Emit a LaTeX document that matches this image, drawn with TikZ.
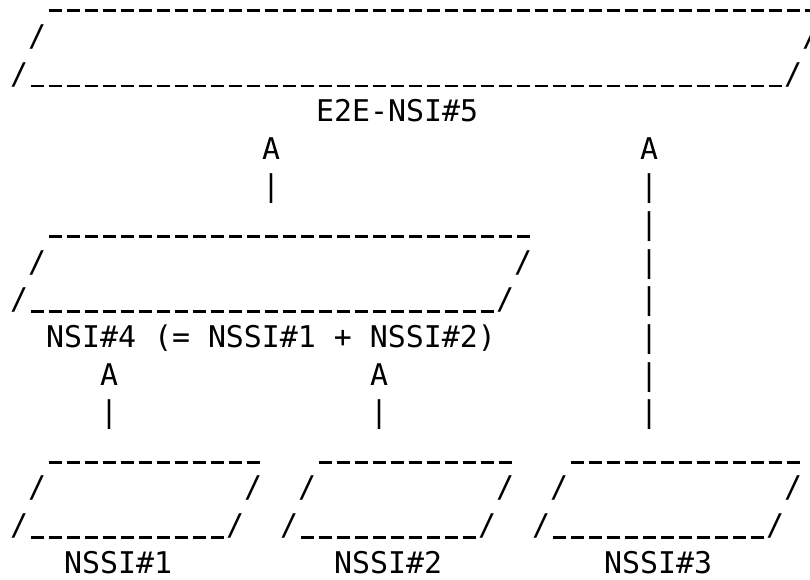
\documentclass[tikz,border=0pt]{standalone}
\usepackage{fontspec}
\setmonofont{DejaVu Sans Mono}
\tikzset{
  ch/.style={anchor=base west, inner sep=0pt, outer sep=0pt,
    font=\ttfamily\fontsize{29.9}{37.6}\selectfont},
  usline/.style={line width=2.7pt, line cap=butt}}
% cell geometry: column width 18, row pitch 37.63, first baseline 8.8 below top
\newcommand\txt[4]{\node[ch] (#1) at ({10+18*(#2)},{571.2-37.63*((#3)-1)}) {#4};}
% underscores drawn as separate dashes: #1 first column, #2 row, #3 count
\newcommand\dashes[3]{\draw[usline] foreach \k in {1,...,#3}
  {({10+18*(#1+\k-1)+2.5},{571.2-37.63*((#2)-1)-2}) -- ++(13,0)};}
\begin{document}
\begin{tikzpicture}[x=1pt,y=1pt]
\useasboundingbox (0,0) rectangle (810,580);
\clip (0,0) rectangle (810,580);
% E2E-NSI#5 box
\dashes{2}{1}{43}
\txt{t2a}{1}{2}{/}
\txt{t2b}{44}{2}{/}
\txt{t3a}{0}{3}{/}
\dashes{1}{3}{42}
\txt{t3b}{43}{3}{/}
\txt{e2e}{17}{4}{E2E-NSI\#5}
% arrows up to E2E
\txt{a1}{14}{5}{A}
\txt{a2}{35}{5}{A}
\txt{b1}{14}{6}{|}
\foreach \r in {6,...,12}{\txt{v\r}{35}{\r}{|}}
% NSI#4 box
\dashes{2}{7}{27}
\txt{m2a}{1}{8}{/}
\txt{m2b}{28}{8}{/}
\txt{m3a}{0}{9}{/}
\dashes{1}{9}{26}
\txt{m3b}{27}{9}{/}
\txt{nsi}{2}{10}{NSI\#4 (= NSSI\#1 + NSSI\#2)}
% arrows up to NSI#4
\txt{a3}{5}{11}{A}
\txt{a4}{20}{11}{A}
\txt{b3}{5}{12}{|}
\txt{b4}{20}{12}{|}
% NSSI boxes
\dashes{2}{13}{12}
\dashes{17}{13}{11}
\dashes{31}{13}{13}
\txt{s1l}{1}{14}{/}
\txt{s1r}{13}{14}{/}
\txt{s2l}{16}{14}{/}
\txt{s2r}{27}{14}{/}
\txt{s3l}{30}{14}{/}
\txt{s3r}{43}{14}{/}
\txt{s1bl}{0}{15}{/}
\dashes{1}{15}{11}
\txt{s1br}{12}{15}{/}
\txt{s2bl}{15}{15}{/}
\dashes{16}{15}{10}
\txt{s2br}{26}{15}{/}
\txt{s3bl}{29}{15}{/}
\dashes{30}{15}{12}
\txt{s3br}{42}{15}{/}
\txt{n1}{3}{16}{NSSI\#1}
\txt{n2}{18}{16}{NSSI\#2}
\txt{n3}{33}{16}{NSSI\#3}
\end{tikzpicture}
\end{document}
